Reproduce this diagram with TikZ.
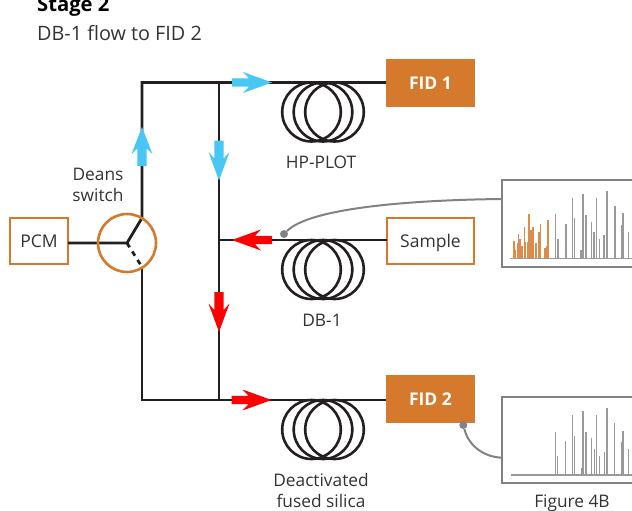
\documentclass[tikz,border=0pt]{standalone}
\usepackage{fontspec}
\setmainfont{Open Sans}
\definecolor{ochre}{HTML}{D5792C}
\definecolor{skyb}{HTML}{48C6F4}
\definecolor{ink}{HTML}{231F20}
\definecolor{txt}{HTML}{333333}
\definecolor{frameg}{HTML}{808285}
\definecolor{peakg}{HTML}{9A9A9A}
\tikzset{
  pipe/.style={draw=ink,line width=2.8pt},
  fidbox/.style={fill=ochre,text=white,minimum width=89pt,minimum height=48pt,inner sep=0pt,text height=13pt,text depth=0pt,font=\fontsize{17.5}{21}\selectfont\bfseries},
  openbox/.style={draw=ochre,line width=2.7pt,fill=white,text=txt,inner sep=0pt,text height=12pt,text depth=0pt,font=\fontsize{17.5}{21}\selectfont},
  lab/.style={text=txt,align=center,inner sep=0pt,font=\fontsize{17.3}{21}\selectfont},
  leader/.style={draw=frameg,line width=2pt},
  dot/.style={circle,fill=frameg,minimum size=8pt,inner sep=0pt},
  frameb/.style={draw=frameg,line width=2.4pt,fill=white},
  peak/.style={draw=peakg,line width=1.5pt},
  opeak/.style={draw=ochre!85,line width=1.5pt}
}
\newcommand{\flowup}[3]{\fill[#3,shift={(#1,#2)}] (-4.7,19.5) -- (-4.7,2) -- (-10.5,7.5) -- (0,-19.5) -- (10.5,7.5) -- (4.7,2) -- (4.7,19.5) -- cycle;}
\newcommand{\flowdown}[3]{\fill[#3,shift={(#1,#2)}] (-4.7,-20) -- (-4.7,-2) -- (-10.5,-8.5) -- (0,20) -- (10.5,-8.5) -- (4.7,-2) -- (4.7,-20) -- cycle;}
\newcommand{\flowright}[3]{\fill[#3,shift={(#1,#2)}] (-20,-4.2) -- (-3,-4.2) -- (-9,-10.5) -- (20,0) -- (-9,10.5) -- (-3,4.2) -- (-20,4.2) -- cycle;}
\newcommand{\flowleft}[3]{\fill[#3,shift={(#1,#2)}] (20,-4.2) -- (3,-4.2) -- (9,-10.5) -- (-20,0) -- (9,10.5) -- (3,4.2) -- (20,4.2) -- cycle;}
\newcommand{\coil}[2]{\begin{scope}[shift={(#1,#2)},line width=2.6pt]
 \draw[ink] (-11.5,29.5) ellipse [x radius=29.3,y radius=29.5];
 \draw[ink] (0,29.5) ellipse [x radius=29.3,y radius=29.5];
 \draw[ink] (11.5,29.5) ellipse [x radius=29.3,y radius=29.5];
\end{scope}}
\begin{document}
\begin{tikzpicture}[x=1pt,y=-1pt]
\useasboundingbox (0,0) rectangle (632,511);
% title
\node[anchor=base west,inner sep=0pt,text=black,font=\fontsize{20.2}{22}\selectfont\bfseries] (title) at (37,12) {Stage 2};
\node[anchor=base west,inner sep=0pt,text=txt,font=\fontsize{19.8}{22}\selectfont] (sub) at (37,41) {DB-1 flow to FID 2};
% nodes
\node[fidbox] (fid1) at (430.5,83) {FID 1};
\node[fidbox] (fid2) at (430.5,399) {FID 2};
\node[openbox,minimum width=58pt,minimum height=46pt] (pcm) at (39,241) {PCM};
\node[openbox,minimum width=87pt,minimum height=46pt] (sample) at (430.5,241) {Sample};
\coordinate (pe) at (68,243);
\coordinate (hub) at (127,243);
\coordinate (up) at (142,218);
\coordinate (dn) at (142,267);
\coordinate (tl) at (142,82.5);
\coordinate (bl) at (142,400);
\coordinate (t2) at (219,82.5);
\coordinate (b2) at (219,400);
\coordinate (m2) at (219,240);
\coordinate (sw) at (387,240);
\coordinate (fw1) at (386,82.5);
\coordinate (fw2) at (386,400);
% coils
\coil{323}{82.5}
\coil{323}{240}
\coil{323}{400}
% pipes
\draw[pipe] (pe) -- (hub) -- (up) -- (tl) -- (fw1);
\draw[pipe,dash pattern=on 5pt off 5pt] (hub) -- (dn);
\draw[pipe] (dn) -- (bl) -- (fw2);
\draw[pipe] (t2) -- (b2);
\draw[pipe] (m2) -- (sw);
\node[circle,draw=ochre,line width=2.6pt,minimum size=58pt,inner sep=0pt] (ds) at (127,243) {};
% arrows
\flowright{252}{82.5}{skyb}
\flowright{251.5}{400}{red}
\flowup{142}{146.5}{skyb}
\flowdown{219}{160.5}{skyb}
\flowdown{219}{312}{red}
\flowleft{252}{240}{red}
% labels
\node[lab] (l1) at (321,162) {HP-PLOT};
\node[lab] (l2) at (322,320) {DB-1};
\node[lab] (l3) at (321,491) {Deactivated\\fused silica};
\node[lab] (l4) at (98,184.5) {Deans\\switch};
\node[lab] (l5) at (572,503) {Figure 4B};
% chromatogram frames
\draw[frameb] (633,180) -- (502,180) -- (502,267) -- (633,267);
\draw[frameb] (633,397) -- (502,397) -- (502,483) -- (633,483);
% top trace
\draw[peak] (510,258.3) -- (633,258.3);
\foreach \x/\y in {555.7/214,558/239,566/224,572.7/198,574.7/218,581/250,583/194,586/215,591.7/222,594/232,596.7/198,599.7/239,604/235,607/191,615/206,622/225,623/213,628.7/232}{\draw[peak] (\x,258) -- (\x,\y);}
\foreach \x/\y in {514/241,515.7/250,517.7/243,518.7/234,520/239,522/246,524.3/227,525/242,527.3/242,529/214,531/230,533/227,533.3/247,536/243,539/232,540.7/224,545/248,546.3/246,548/220}{\draw[opeak] (\x,258) -- (\x,\y);}
% bottom trace
\draw[peak] (510.7,475) -- (633,475);
\foreach \x/\y in {555.7/431.7,557.7/456,565.7/441,572.3/415,574.7/435.7,581.3/467.7,583/411,586/432,591.7/438,594.3/449,596.7/415,599.7/456,604.3/452,607/408,614.7/423,621.7/442,623/431,628.7/449}{\draw[peak] (\x,475) -- (\x,\y);}
% leaders
\coordinate (f1) at (502,199);
\coordinate (f2) at (502,457.7);
\node[dot] (d1) at (284,234) {};
\draw[leader] (d1) .. controls (310,208) and (410,200) .. (f1);
\node[dot] (d2) at (463.3,425) {};
\draw[leader] (d2) .. controls (468,444) and (482,457) .. (f2);
\end{tikzpicture}
\end{document}
